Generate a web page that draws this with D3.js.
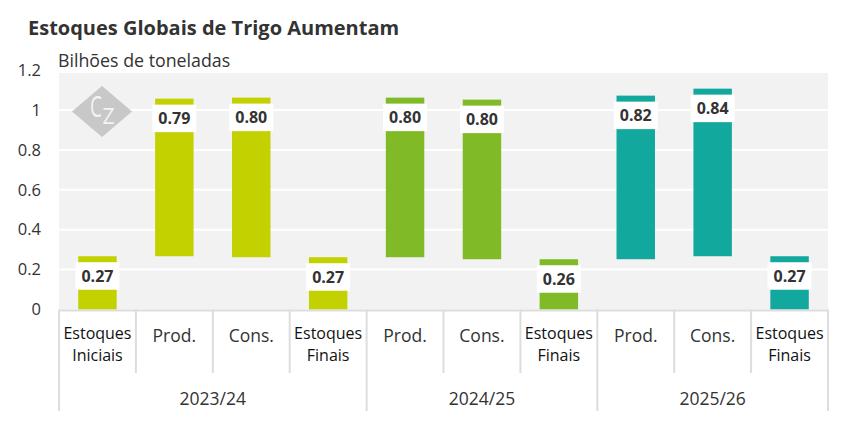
<!DOCTYPE html>
<html>
<head>
<meta charset="utf-8">
<script src="https://cdn.jsdelivr.net/npm/d3@7"></script>
<style>
  body { margin: 0; background: #fff; }
  text { font-family: "Open Sans", sans-serif; }
</style>
</head>
<body>
<div id="chart"></div>
<script>
// dados
const categorias = ["Estoques|Iniciais", "Prod.", "Cons.", "Estoques|Finais",
                    "Prod.", "Cons.", "Estoques|Finais",
                    "Prod.", "Cons.", "Estoques|Finais"];
const safras = ["2023/24", "2024/25", "2025/26"];
const safraDe = [0, 0, 0, 0, 1, 1, 1, 2, 2, 2];
const base = [0, 0.267, 0.262, 0, 0.262, 0.252, 0, 0.252, 0.267, 0];
const valores = [0.267, 0.79, 0.80, 0.262, 0.80, 0.80, 0.252, 0.82, 0.84, 0.267];
const rotulos = ["0.27", "0.79", "0.80", "0.27", "0.80", "0.80", "0.26", "0.82", "0.84", "0.27"];
const yTicks = [0, 0.2, 0.4, 0.6, 0.8, 1, 1.2];
const cores = ["#c4d100", "#80bb27", "#13a89e"];

const W = 843, H = 430;
const pLeft = 59, pRight = 828, pTop = 73, pBottom = 309.5;

const svg = d3.select("#chart").append("svg")
    .attr("width", W)
    .attr("height", H);

const x = d3.scaleBand()
    .domain(d3.range(categorias.length))
    .range([pLeft, pRight])
    .paddingInner(0.5)
    .paddingOuter(0.25);

const y = d3.scaleLinear().domain([0, 1.2]).range([pBottom, pBottom - 1.2 * 199.5]);

// titulo
svg.append("text")
    .attr("x", 28).attr("y", 35)
    .attr("font-size", 20).attr("font-weight", "bold").attr("fill", "#333")
    .text("Estoques Globais de Trigo Aumentam");
svg.append("text")
    .attr("x", 58).attr("y", 67)
    .attr("font-size", 17.8).attr("fill", "#333")
    .text("Bilhões de toneladas");

// fundo
svg.append("rect")
    .attr("x", pLeft).attr("y", pTop)
    .attr("width", pRight - pLeft).attr("height", pBottom - pTop)
    .attr("fill", "#f2f2f2");

// grade
svg.selectAll(".grid").data(yTicks.filter(d => d > 0 && d < 1.2)).enter()
  .append("line")
    .attr("x1", pLeft).attr("x2", pRight)
    .attr("y1", d => y(d)).attr("y2", d => y(d))
    .attr("stroke", "#fff").attr("stroke-width", 2);

svg.selectAll(".ytick").data(yTicks).enter()
  .append("text")
    .attr("x", 41).attr("y", d => y(d))
    .attr("dy", "0.35em")
    .attr("text-anchor", "end")
    .attr("font-size", 16.5).attr("fill", "#333")
    .text(d => d3.format("")(d));

// logo
const logo = svg.append("g").attr("transform", "translate(102,111.5)");
logo.append("path")
    .attr("d", "M0,-25.5 L30,0 L0,25.5 L-30,0 Z")
    .attr("fill", "#c8c8c8");
logo.append("text")
    .attr("transform", "translate(-6,5.5) scale(0.65,1)")
    .attr("text-anchor", "middle")
    .attr("font-family", "Liberation Serif, serif").attr("font-size", 29)
    .attr("fill", "#f4f4f4").text("C");
logo.append("text")
    .attr("x", 6.5).attr("y", 12.5)
    .attr("text-anchor", "middle")
    .attr("font-family", "Liberation Serif, serif").attr("font-size", 21)
    .attr("fill", "#f4f4f4").text("Z");

// barras
svg.selectAll(".bar").data(valores).enter()
  .append("rect")
    .attr("x", (d, i) => x(i))
    .attr("width", x.bandwidth())
    .attr("y", (d, i) => y(base[i] + d))
    .attr("height", (d, i) => y(base[i]) - y(base[i] + d))
    .attr("fill", (d, i) => cores[safraDe[i]]);

// rotulos
const lab = svg.selectAll(".lab").data(valores).enter()
  .append("g")
    .attr("transform", (d, i) => `translate(${x(i) + x.bandwidth() / 2},${y(base[i] + d) + 6})`);
lab.append("rect")
    .attr("x", -22).attr("y", 0)
    .attr("width", 44).attr("height", 27.5)
    .attr("fill", "#fff");
lab.append("text")
    .attr("y", 14).attr("dy", "0.35em")
    .attr("text-anchor", "middle")
    .attr("font-size", 16).attr("font-weight", "bold").attr("fill", "#333")
    .text((d, i) => rotulos[i]);

// eixo x
svg.append("line")
    .attr("x1", pLeft).attr("x2", pRight)
    .attr("y1", pBottom + 1).attr("y2", pBottom + 1)
    .attr("stroke", "#ddd").attr("stroke-width", 2);

const bordas = d3.range(categorias.length + 1).map(i => pLeft + i * (pRight - pLeft) / categorias.length);
svg.selectAll(".ctick").data(bordas).enter()
  .append("line")
    .attr("x1", d => d).attr("x2", d => d)
    .attr("y1", pBottom).attr("y2", 373)
    .attr("stroke", "#ddd").attr("stroke-width", 2);

const limites = [0, 4, 7, 10];
svg.selectAll(".gtick").data(limites).enter()
  .append("line")
    .attr("x1", d => bordas[d]).attr("x2", d => bordas[d])
    .attr("y1", 373).attr("y2", 411)
    .attr("stroke", "#ddd").attr("stroke-width", 2);

categorias.forEach((c, i) => {
  const cx = x(i) + x.bandwidth() / 2;
  const linhas = c.split("|");
  if (linhas.length === 1) {
    svg.append("text")
      .attr("x", cx).attr("y", 342)
      .attr("text-anchor", "middle")
      .attr("font-size", 17.5).attr("fill", "#333")
      .text(c);
  } else {
    linhas.forEach((l, k) => {
      svg.append("text")
        .attr("x", cx).attr("y", 339 + k * 22)
        .attr("text-anchor", "middle")
        .attr("font-size", 16).attr("fill", "#111")
        .text(l);
    });
  }
});

safras.forEach((s, g) => {
  svg.append("text")
    .attr("x", (bordas[limites[g]] + bordas[limites[g + 1]]) / 2)
    .attr("y", 405)
    .attr("text-anchor", "middle")
    .attr("font-size", 17.5).attr("fill", "#333")
    .text(s);
});
</script>
</body>
</html>
